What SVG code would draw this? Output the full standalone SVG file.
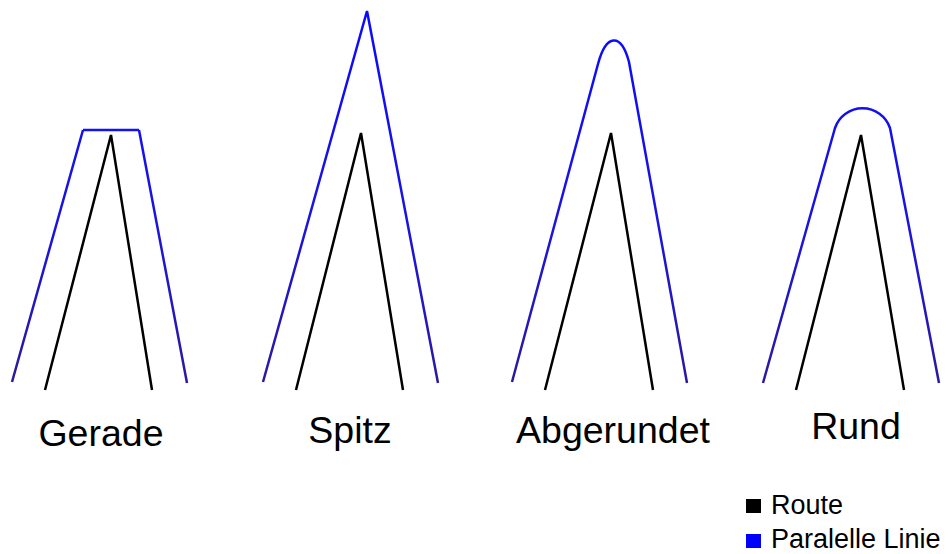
<svg xmlns="http://www.w3.org/2000/svg" width="950" height="554" viewBox="0 0 950 554">
<style>
.route{fill:none;stroke:#000;stroke-width:2.5;stroke-linejoin:miter}
.par{fill:none;stroke:url(#g);stroke-width:2.5}
.top{fill:none;stroke:#1010ff;stroke-width:2.5}
.lbl{font-family:"Liberation Sans",Arial,sans-serif;font-size:37.5px;fill:#000;text-anchor:middle}
.leg{font-family:"Liberation Sans",Arial,sans-serif;font-size:27px;fill:#000}
</style>
<defs>
<linearGradient id="g" gradientUnits="userSpaceOnUse" x1="0" y1="10" x2="0" y2="390">
<stop offset="0" stop-color="#0a0aff"/>
<stop offset="0.55" stop-color="#1a14e0"/>
<stop offset="1" stop-color="#2c1a9a"/>
</linearGradient>
</defs>
<rect width="950" height="554" fill="#fff"/>
<g id="gerade">
<path class="route" d="M45,390 L111,135 L152,390"/>
<path class="par" d="M12,382 L83,130 M139,130 L187,383"/>
<path class="top" d="M83,130 L139,130"/>
<text class="lbl" x="101" y="446">Gerade</text>
</g>
<g id="spitz">
<path class="route" d="M296,390 L361,133 L403,390"/>
<path class="par" d="M263,382 L367,11 L438,383"/>
<text class="lbl" x="350" y="443">Spitz</text>
</g>
<g id="abgerundet">
<path class="route" d="M545,390 L611,133 L653,390"/>
<path class="par" d="M512,382 L598,64 C606,34 621,32 629,62 L687,383"/>
<text class="lbl" x="613" y="443">Abgerundet</text>
</g>
<g id="rund">
<path class="route" d="M796,390 L861,135 L904,390"/>
<path class="par" d="M763,383 L835,128 A29,29 0 0 1 890,128 L939,383"/>
<text class="lbl" x="856" y="439">Rund</text>
</g>
<g id="legend">
<rect x="746" y="499" width="15" height="14" fill="#000"/>
<text class="leg" x="771" y="514">Route</text>
<rect x="746" y="534" width="15" height="14" fill="#0000ff"/>
<text class="leg" x="771" y="548">Paralelle Linie</text>
</g>
</svg>
